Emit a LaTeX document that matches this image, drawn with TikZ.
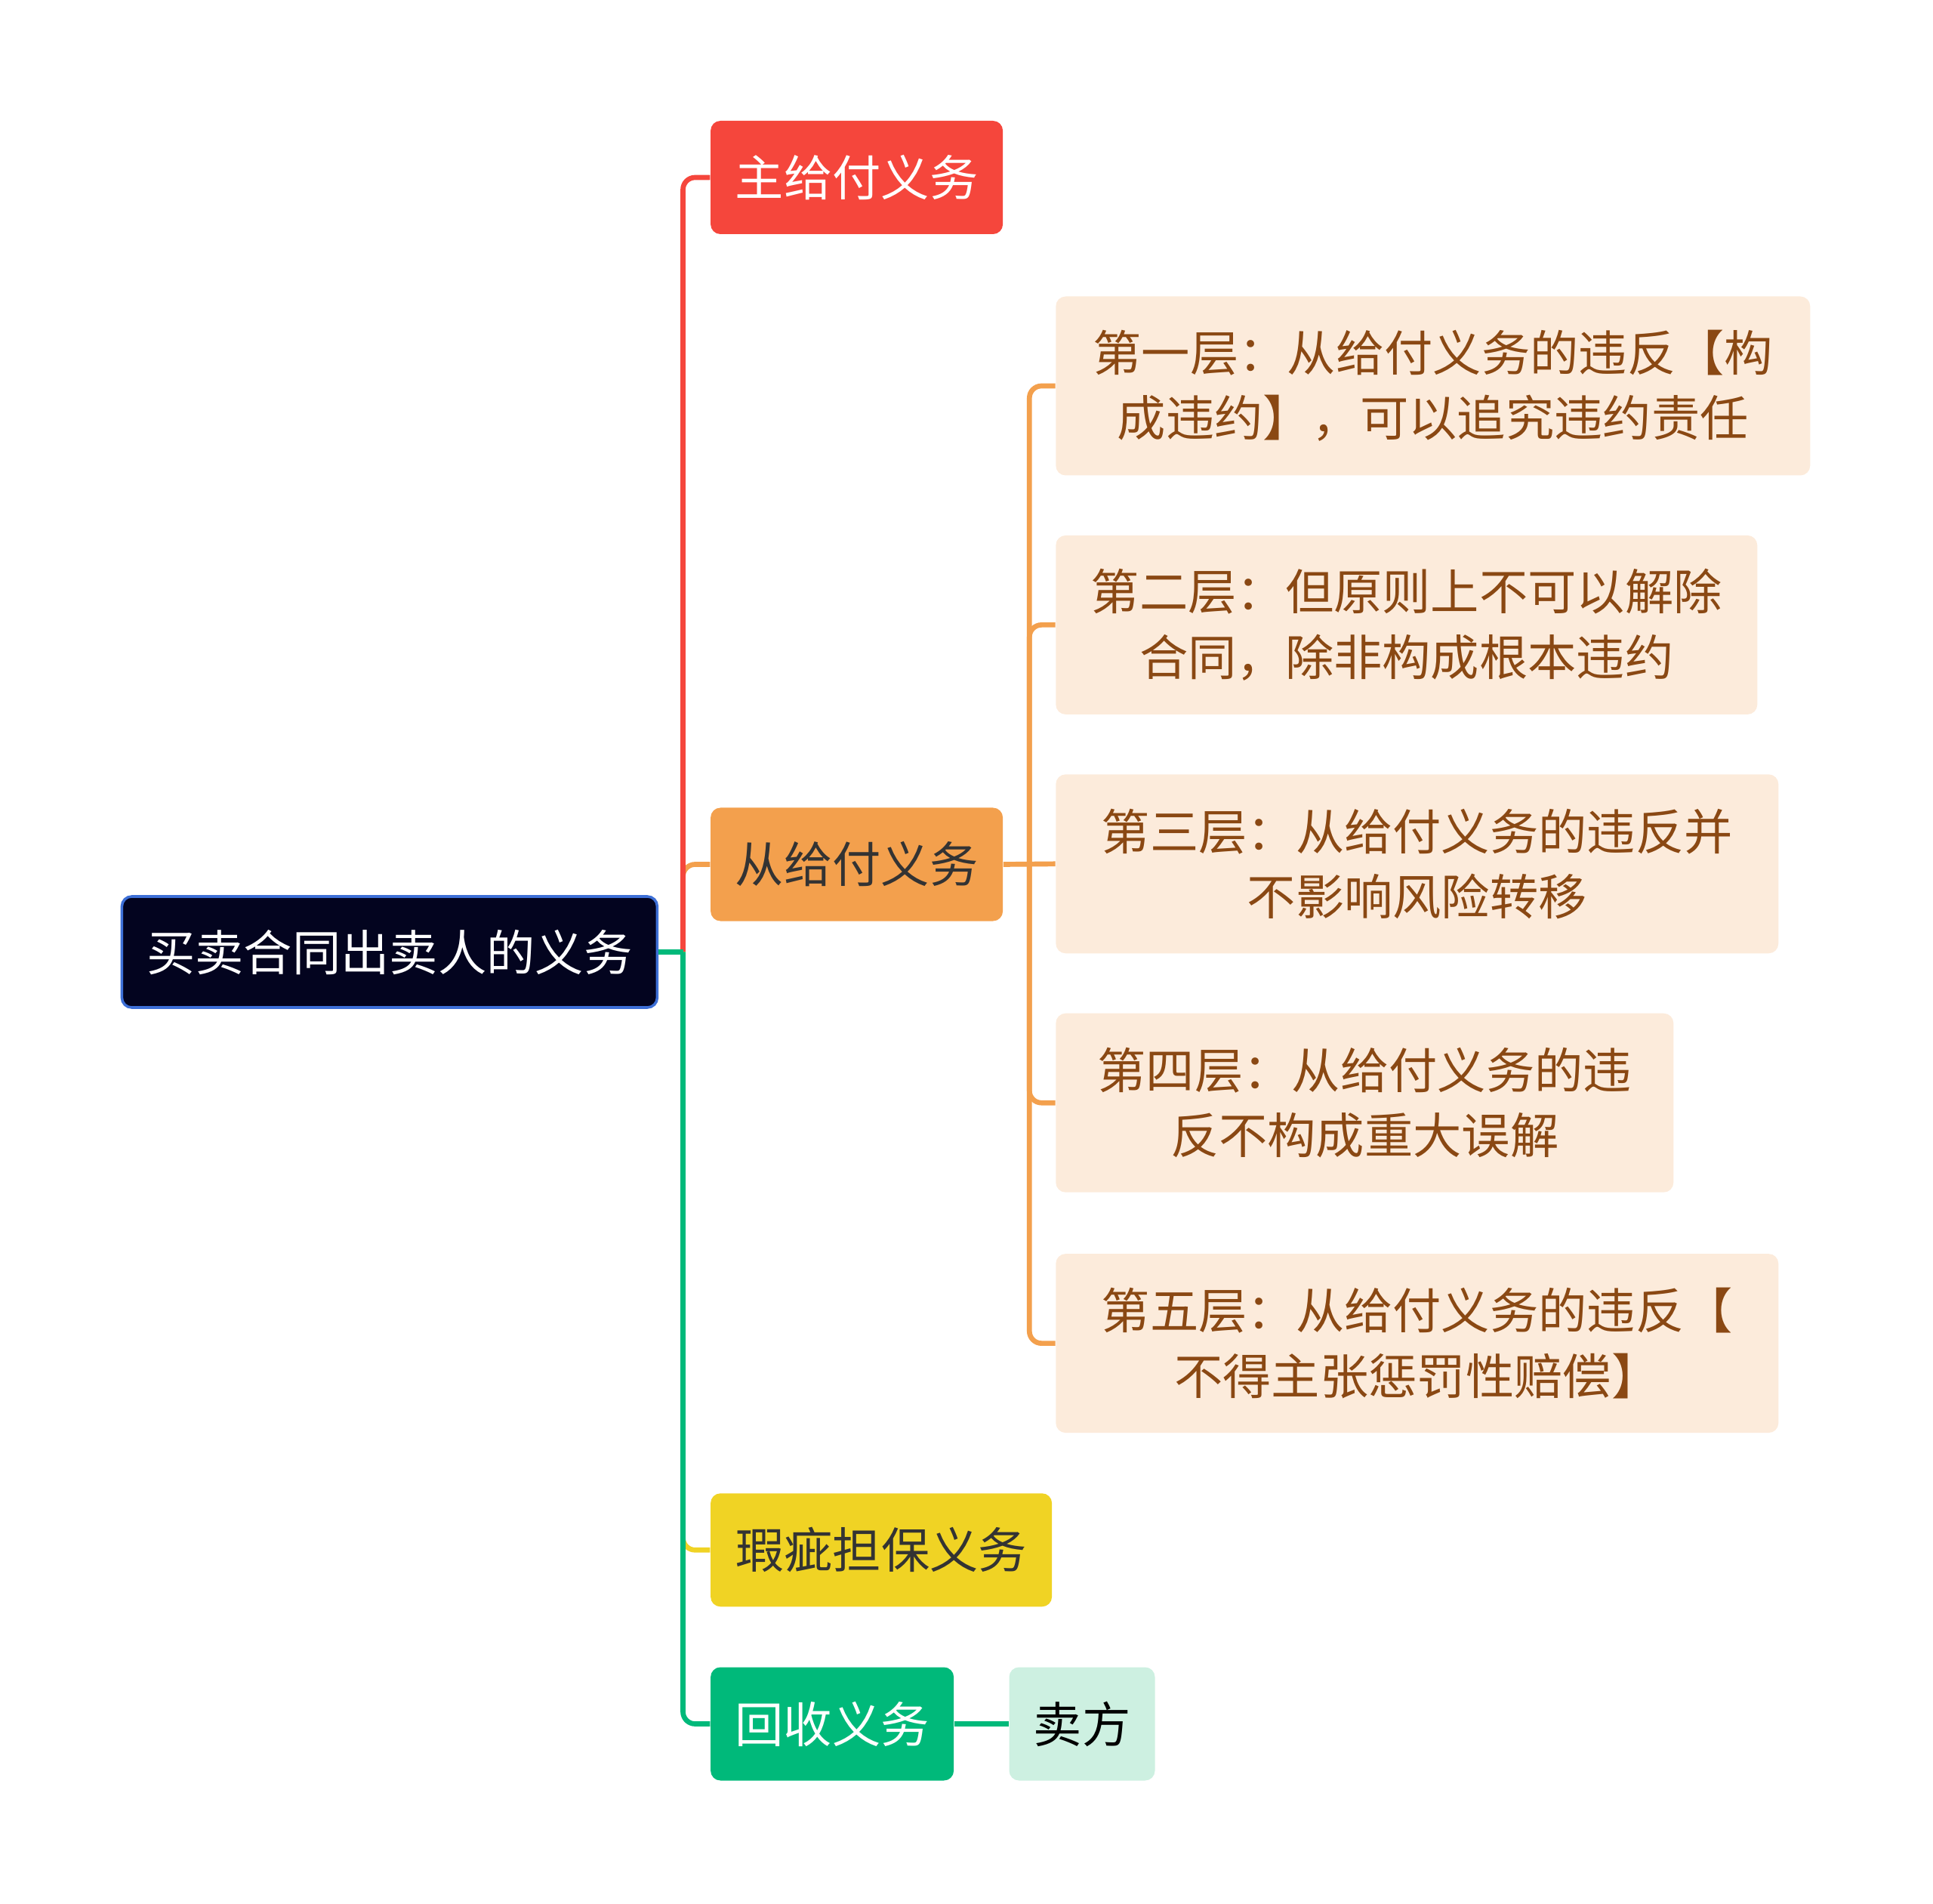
\documentclass[tikz,border=0pt]{standalone}
\usepackage{fontspec}
\setmainfont{Noto Sans CJK SC}
\usetikzlibrary{positioning}
\definecolor{rootnavy}{HTML}{03041F}
\definecolor{rootblue}{HTML}{3D6FD6}
\definecolor{zhured}{HTML}{F5463C}
\definecolor{congorange}{HTML}{F3A04D}
\definecolor{xiayellow}{HTML}{F0D324}
\definecolor{huigreen}{HTML}{00B97A}
\definecolor{maimint}{HTML}{CDF0E1}
\definecolor{layerfill}{HTML}{FCEBDB}
\definecolor{layerbrown}{HTML}{8A4813}
\definecolor{darktext}{HTML}{333333}

\begin{document}
\begin{tikzpicture}[
  topic/.style={rounded corners=0.13cm, minimum height=1.5cm, text centered,
                font=\fontsize{18.3pt}{24.6pt}\selectfont},
  layer/.style={topic, fill=layerfill, text=layerbrown, minimum height=2.37cm,
                align=center},
  link/.style={line width=1.9pt, rounded corners=0.16cm}
]
  \useasboundingbox (0,0) rectangle (25.6,-25.21);

  % root and first-level topics
  \node[topic, draw=rootblue, line width=1pt, fill=rootnavy, text=white,
        minimum width=7.09cm, minimum height=1.47cm] (root) at (5.159,-12.605) {买卖合同出卖人的义务};
  \node[topic, fill=zhured, text=white, minimum width=3.87cm, anchor=west] (zhu) at (9.404,-2.35) {主给付义务};
  \node[topic, fill=congorange, text=darktext, minimum width=3.87cm, anchor=west] (cong) at (9.404,-11.445) {从给付义务};
  \node[topic, fill=xiayellow, text=darktext, minimum width=4.52cm, anchor=west] (xia) at (9.404,-20.523) {瑕疵担保义务};
  \node[topic, fill=huigreen, text=white, minimum width=3.22cm, anchor=west] (hui) at (9.404,-22.825) {回收义务};
  \node[topic, fill=maimint, text=black, minimum width=1.93cm, right=0.72cm of hui] (maifang) {卖方};

  % layers of 从给付义务
  \node[layer, minimum width=9.99cm, anchor=north west] (lv1) at (13.976,-3.918)
       {第一层：从给付义务的违反【构\\成违约】，可以追究违约责任};
  \node[layer, minimum width=9.29cm, below=0.78cm of lv1.south west, anchor=north west] (lv2)
       {第二层：但原则上不可以解除\\合同，除非构成根本违约};
  \node[layer, minimum width=9.57cm, below=0.78cm of lv2.south west, anchor=north west] (lv3)
       {第三层：从给付义务的违反并\\不影响风险转移};
  \node[layer, minimum width=8.18cm, below=0.78cm of lv3.south west, anchor=north west] (lv4)
       {第四层：从给付义务的违\\反不构成重大误解};
  \node[layer, minimum width=9.57cm, below=0.8cm of lv4.south west, anchor=north west] (lv5)
       {第五层：从给付义务的违反【\\不得主张惩罚性赔偿】};

  \coordinate (hub) at (9.045,-12.605);
  \coordinate (subhub) at (13.633,-11.445);

  % connectors
  \draw[link, congorange] (hub) |- (cong.west);
  \draw[link, zhured] (hub) |- (zhu.west);
  \draw[link, xiayellow] (hub) |- (xia.west);
  \draw[link, huigreen] (hub) |- (hui.west);
  \draw[link, huigreen] (root.east) -- (hub);
  \draw[link, congorange] (cong.east) -- (lv3.west);
  \draw[link, congorange] (subhub) |- (lv1.west);
  \draw[link, congorange] (subhub) |- (lv2.west);
  \draw[link, congorange] (subhub) |- (lv4.west);
  \draw[link, congorange] (subhub) |- (lv5.west);
  \draw[link, huigreen] (hui.east) -- (maifang.west);
\end{tikzpicture}
\end{document}
